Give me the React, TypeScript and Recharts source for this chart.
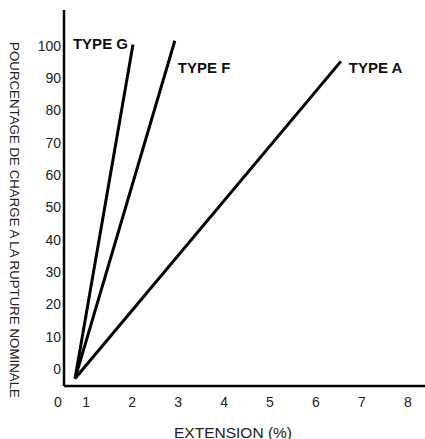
import React from 'react'
import { LineChart, Line, XAxis, YAxis, LabelList } from 'recharts'

// Straight load/extension lines for each rope type
const typeG = [
  { x: 0.76, y: -3, name: '' },
  { x: 2.02, y: 100.3, name: 'TYPE G' },
]
const typeF = [
  { x: 0.76, y: -3, name: '' },
  { x: 2.93, y: 101.5, name: 'TYPE F' },
]
const typeA = [
  { x: 0.76, y: -3, name: '' },
  { x: 6.54, y: 95.1, name: 'TYPE A' },
]

const xTicks = [0.52, 1, 2, 3, 4, 5, 6, 7, 8]
const yTicks = [0, 10, 20, 30, 40, 50, 60, 70, 80, 90, 100]

const FONT = '"Liberation Sans", Arial, sans-serif'

const XTick = (props: any) => {
  const { x, y, payload } = props
  const isOrigin = payload.value < 1
  return (
    <text
      x={isOrigin ? x - 6 : x}
      y={y + 13}
      textAnchor="middle"
      fontSize={14}
      fontFamily={FONT}
      fill="#222"
    >
      {isOrigin ? '0' : payload.value}
    </text>
  )
}

const YTick = (props: any) => {
  const { x, y, payload } = props
  return (
    <text
      x={x}
      y={y}
      textAnchor="end"
      dominantBaseline="central"
      fontSize={14}
      fontFamily={FONT}
      fill="#222"
    >
      {payload.value}
    </text>
  )
}

// end-of-line labels, placed per series
const endLabel = (dx: number, dy: number, anchor: 'start' | 'end') => (props: any) => {
  const { x, y, value } = props
  if (!value) return null
  return (
    <text
      x={x + dx}
      y={y + dy}
      textAnchor={anchor}
      dominantBaseline="central"
      fontSize={15}
      fontWeight="bold"
      fontFamily={FONT}
      fill="#111"
    >
      {value}
    </text>
  )
}

export default function App() {
  return (
    <div style={{ position: 'absolute', left: 0, top: 0, background: '#fff' }}>
      <LineChart
        width={425}
        height={439}
        margin={{ top: 10, right: 0, left: 24, bottom: 0 }}
      >
        <XAxis
          dataKey="x"
          type="number"
          domain={[0.52, 8.37]}
          ticks={xTicks}
          interval={0}
          tickLine={false}
          tick={<XTick />}
          height={53}
          axisLine={{ stroke: '#000', strokeWidth: 2.5 }}
          allowDataOverflow
        />
        <YAxis
          dataKey="y"
          type="number"
          domain={[-5.3, 111]}
          ticks={yTicks}
          interval={0}
          tickLine={false}
          tickSize={0}
          tickMargin={3}
          width={40}
          axisLine={{ stroke: '#000', strokeWidth: 2.5 }}
          tick={<YTick />}
          allowDataOverflow
        />
        <text
          x={14}
          y={220}
          transform="rotate(90 14 220)"
          textAnchor="middle"
          dominantBaseline="central"
          fontSize={13.3}
          fontFamily={FONT}
          fill="#222"
        >
          POURCENTAGE DE CHARGE A LA RUPTURE NOMINALE
        </text>
        <text
          x={233}
          y={432}
          textAnchor="middle"
          dominantBaseline="central"
          fontSize={15.5}
          fontFamily={FONT}
          fill="#222"
        >
          EXTENSION (%)
        </text>
        <Line data={typeG} dataKey="y" stroke="#000" strokeWidth={3} dot={false} isAnimationActive={false}>
          <LabelList dataKey="name" content={endLabel(-5, -1, 'end')} />
        </Line>
        <Line data={typeF} dataKey="y" stroke="#000" strokeWidth={3} dot={false} isAnimationActive={false}>
          <LabelList dataKey="name" content={endLabel(3, 27, 'start')} />
        </Line>
        <Line data={typeA} dataKey="y" stroke="#000" strokeWidth={3} dot={false} isAnimationActive={false}>
          <LabelList dataKey="name" content={endLabel(8, 6, 'start')} />
        </Line>
      </LineChart>
    </div>
  )
}
